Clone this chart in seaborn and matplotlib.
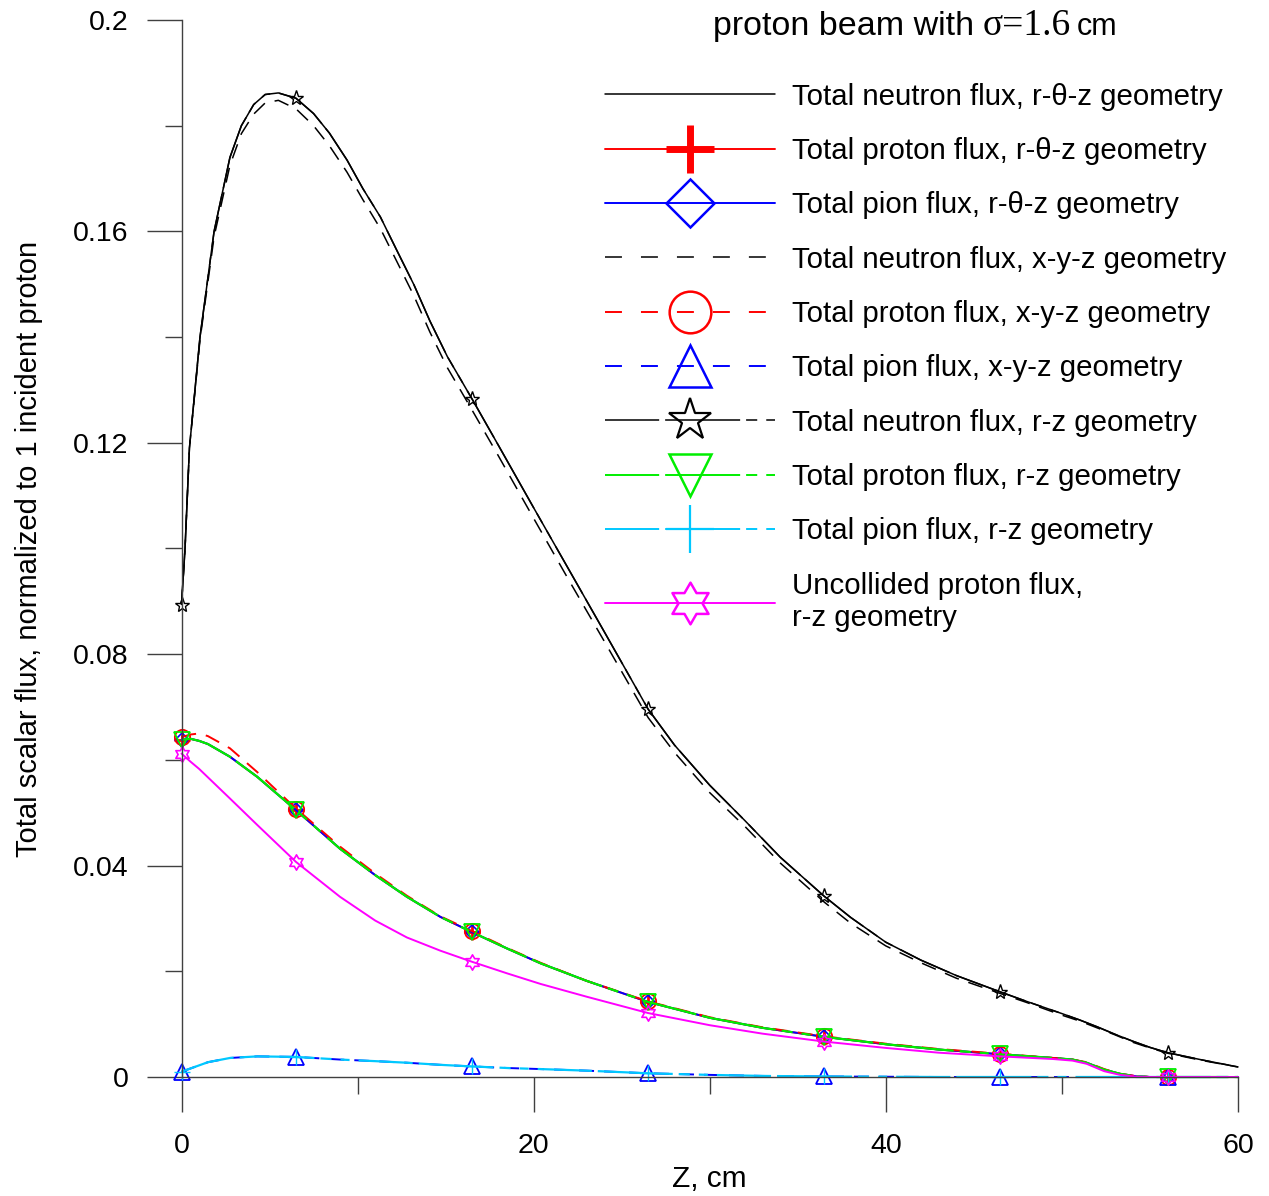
import numpy as np
import matplotlib
matplotlib.use("Agg")
import matplotlib.pyplot as plt
import seaborn as sns
from matplotlib.lines import Line2D
from matplotlib.path import Path
from matplotlib.ticker import MultipleLocator, FuncFormatter

# ---------------- data ----------------
z_n = [0, 0.2, 0.45, 1.05, 1.85, 2.75, 3.4, 4.1, 4.75, 5.5, 6.5, 7.5, 8.4, 9.4,
       10.3, 11.3, 12.2, 13.2, 14.1, 15.1, 16.5, 18, 20, 22, 24, 26.5, 28, 30,
       32, 34, 36.5, 38, 40, 42, 44, 46.5, 48, 50, 51, 52, 53, 54, 55, 56, 58, 60]
neutron_rtz = [0.0894, 0.100, 0.119, 0.140, 0.160, 0.174, 0.180, 0.184, 0.1859,
               0.1862, 0.1852, 0.1823, 0.1786, 0.1735, 0.1681, 0.1627, 0.1566,
               0.1499, 0.1431, 0.1363, 0.1283, 0.1195, 0.1077, 0.0960, 0.0843,
               0.0696, 0.0628, 0.0552, 0.0485, 0.0416, 0.0342, 0.0302, 0.0255,
               0.0221, 0.0192, 0.0161, 0.0143, 0.0120, 0.0108, 0.0095, 0.0081,
               0.0068, 0.0056, 0.0046, 0.0032, 0.0019]
neutron_xyz = [0.0894, 0.100, 0.119, 0.1395, 0.159, 0.1725, 0.1785, 0.1822,
               0.1843, 0.1848, 0.1832, 0.1800, 0.1762, 0.1712, 0.1660, 0.1605,
               0.1545, 0.1478, 0.1410, 0.1342, 0.1262, 0.1175, 0.1057, 0.0940,
               0.0825, 0.0680, 0.0614, 0.0538, 0.0474, 0.0405, 0.0331, 0.0291,
               0.0248, 0.0216, 0.0187, 0.0158, 0.0141, 0.0117, 0.0106, 0.0093,
               0.0080, 0.0066, 0.0055, 0.0045, 0.0031, 0.0019]
neutron_rz = [0.0894, 0.100, 0.119, 0.140, 0.160, 0.174, 0.180, 0.184, 0.1859,
              0.1862, 0.1852, 0.1823, 0.1786, 0.1735, 0.1681, 0.1627, 0.1566,
              0.1499, 0.1431, 0.1363, 0.1283, 0.1195, 0.1077, 0.0960, 0.0843,
              0.0696, 0.0628, 0.0552, 0.0485, 0.0416, 0.0342, 0.0302, 0.0255,
              0.0221, 0.0192, 0.0161, 0.0143, 0.0120, 0.0108, 0.0095, 0.0081,
              0.0068, 0.0056, 0.0046, 0.0032, 0.0019]

z_p = [0, 0.5, 1, 1.5, 2.75, 4.3, 6.5, 9, 11, 12.8, 14.7, 16.5, 18.5, 20.4, 23,
       26.5, 30, 33, 36.5, 40, 43, 46.5, 49.5, 50.6, 51.4, 52.4, 53.3, 54.1, 55,
       56, 58, 60]
proton_rtz = [0.0638, 0.0640, 0.0636, 0.0630, 0.0606, 0.0568, 0.0505, 0.0432,
              0.0382, 0.0341, 0.0303, 0.0274, 0.0243, 0.0215, 0.0182, 0.0142,
              0.0112, 0.0093, 0.0076, 0.0062, 0.0052, 0.0043, 0.0036, 0.0033,
              0.0027, 0.0014, 0.0006, 0.0002, 0.0, 0.0, 0.0, 0.0]
pion_rtz = [0.0638, 0.0640, 0.0636, 0.0630, 0.0606, 0.0568, 0.0505, 0.0432,
            0.0382, 0.0341, 0.0303, 0.0274, 0.0243, 0.0215, 0.0182, 0.0142,
            0.0112, 0.0093, 0.0076, 0.0062, 0.0052, 0.0043, 0.0036, 0.0033,
            0.0027, 0.0014, 0.0006, 0.0002, 0.0, 0.0, 0.0, 0.0]
proton_xyz = [0.0643, 0.0648, 0.0650, 0.0645, 0.0622, 0.0577, 0.0508, 0.0436,
              0.0385, 0.0343, 0.0304, 0.0276, 0.0244, 0.0216, 0.0182, 0.0143,
              0.0113, 0.0094, 0.0077, 0.0063, 0.0053, 0.0044, 0.0036, 0.0033,
              0.0028, 0.0015, 0.0006, 0.0002, 0.0, 0.0, 0.0, 0.0]
pion_xyz = [0.0010, 0.0016, 0.0022, 0.0028, 0.0036, 0.0039, 0.0038, 0.0033,
            0.0030, 0.0027, 0.0023, 0.0020, 0.0017, 0.0015, 0.0012, 0.0007,
            0.0004, 0.0002, 0.0001, 0.00005, 0.0, 0.0, 0.0, 0.0, 0.0, 0.0,
            0.0, 0.0, 0.0, 0.0, 0.0, 0.0]
proton_rz = [0.0638, 0.0640, 0.0636, 0.0630, 0.0606, 0.0568, 0.0505, 0.0432,
             0.0382, 0.0341, 0.0303, 0.0274, 0.0243, 0.0215, 0.0182, 0.0142,
             0.0112, 0.0093, 0.0076, 0.0062, 0.0052, 0.0043, 0.0036, 0.0033,
             0.0027, 0.0014, 0.0006, 0.0002, 0.0, 0.0, 0.0, 0.0]
pion_rz = [0.0010, 0.0016, 0.0022, 0.0028, 0.0036, 0.0039, 0.0038, 0.0033,
           0.0030, 0.0027, 0.0023, 0.0020, 0.0017, 0.0015, 0.0012, 0.0007,
           0.0004, 0.0002, 0.0001, 0.00005, 0.0, 0.0, 0.0, 0.0, 0.0, 0.0,
           0.0, 0.0, 0.0, 0.0, 0.0, 0.0]
proton_uncollided = [0.0612, 0.0597, 0.0583, 0.0567, 0.0527, 0.0477, 0.0407,
                     0.0341, 0.0296, 0.0264, 0.0239, 0.0218, 0.0196, 0.0176,
                     0.0152, 0.0121, 0.0098, 0.0082, 0.0067, 0.0055, 0.0046,
                     0.0039, 0.0034, 0.0031, 0.0025, 0.0011, 0.0004, 0.0001,
                     0.0, 0.0, 0.0, 0.0]

z_marks = [0, 6.5, 16.5, 26.5, 36.5, 46.5, 56]

labels = ["Total neutron flux, r-\u03b8-z geometry",
          "Total proton flux, r-\u03b8-z geometry",
          "Total pion flux, r-\u03b8-z geometry",
          "Total neutron flux, x-y-z geometry",
          "Total proton flux, x-y-z geometry",
          "Total pion flux, x-y-z geometry",
          "Total neutron flux, r-z geometry",
          "Total proton flux, r-z geometry",
          "Total pion flux, r-z geometry",
          "Uncollided proton flux,\nr-z geometry"]

# ---------------- style ----------------
sns.set_theme(style="white")
plt.rcParams["font.family"] = ["Liberation Sans", "DejaVu Sans"]
plt.rcParams["lines.scale_dashes"] = False
plt.rcParams["text.color"] = "black"
plt.rcParams["axes.labelcolor"] = "black"
plt.rcParams["xtick.color"] = "black"
plt.rcParams["ytick.color"] = "black"

RED, BLUE, GREEN, CYAN, MAG, BLK = "#ff0000", "#0000ff", "#00ee00", "#00c8ff", "#ff00ff", "#000000"
AXC = "#404040"

DASH = (0, (10.8, 7.2))
RZ = (0, (39, 4.3, 54, 4.3, 8, 6.5, 6.5, 6.5))
LEG_DASH = (0, (12.2, 13.7))

ang = np.deg2rad(90 + 30 * np.arange(12))
rad = np.where(np.arange(12) % 2 == 0, 1.0, 1 / np.sqrt(3))
hv = np.column_stack([rad * np.cos(ang), rad * np.sin(ang)])
hexagram = Path(np.vstack([hv, hv[:1]]), closed=True)

fig = plt.figure(figsize=(12.69, 11.96), dpi=100)
ax = fig.add_axes([0.14303, 0.09950, 0.83254, 0.88378])


def draw(x, y, color, ls, lw, marker=None, ms=9, mew=1.2):
    x = np.asarray(x, float)
    idx = list(np.where(np.isin(x, z_marks))[0])
    kw = dict(color=color, linestyle=ls, linewidth=lw, clip_on=False)
    if marker is not None:
        kw.update(marker=marker, markersize=ms, markeredgewidth=mew,
                  markerfacecolor="none", markeredgecolor=color, markevery=idx)
    sns.lineplot(x=x, y=np.asarray(y, float), ax=ax, errorbar=None,
                 sort=False, legend=False, **kw)


draw(z_n, neutron_rtz, BLK, "-", 1.1)
draw(z_p, proton_rtz, RED, "-", 1.4, "+", 11, 2.0)
draw(z_p, pion_rtz, BLUE, "-", 1.4, "D", 7.5, 1.2)
draw(z_n, neutron_xyz, BLK, DASH, 1.1)
draw(z_p, proton_xyz, RED, DASH, 1.4, "o", 11, 1.3)
draw(z_p, pion_xyz, BLUE, DASH, 1.4, "^", 11, 1.3)
draw(z_n, neutron_rz, BLK, RZ, 1.1, "*", 11, 1.0)
draw(z_p, proton_rz, GREEN, RZ, 1.6, "v", 11, 1.3)
draw(z_p, pion_rz, CYAN, RZ, 1.6, "+", 12, 1.0)
draw(z_p, proton_uncollided, MAG, "-", 1.4, hexagram, 11, 1.2)

ax.set_xlim(0, 60)
ax.set_ylim(0, 0.2)
ax.xaxis.set_major_locator(MultipleLocator(20))
ax.xaxis.set_minor_locator(MultipleLocator(10))
ax.yaxis.set_major_locator(MultipleLocator(0.04))
ax.yaxis.set_minor_locator(MultipleLocator(0.02))
ax.yaxis.set_major_formatter(FuncFormatter(lambda v, p: "%g" % round(v, 4)))
ax.xaxis.set_major_formatter(FuncFormatter(lambda v, p: "%g" % v))
for s in ["top", "right"]:
    ax.spines[s].set_visible(False)
for s in ["left", "bottom"]:
    ax.spines[s].set_color(AXC)
    ax.spines[s].set_linewidth(1.0)
ax.tick_params(which="both", bottom=True, left=True, top=False, right=False)
ax.tick_params(which="major", direction="out", length=25, width=1.0, color=AXC,
               labelsize=20.5, labelcolor="black")
ax.tick_params(which="minor", direction="out", length=12.5, width=1.0, color=AXC)
ax.tick_params(axis="x", which="major", pad=15)
ax.tick_params(axis="y", which="major", pad=13)
ax.grid(False)

ax.set_xlabel("Z, cm", fontsize=21.5, labelpad=5)
ax.set_ylabel("Total scalar flux, normalized to 1 incident proton", fontsize=21,
              labelpad=22)

# legend
handles = [
    Line2D([], [], color=BLK, lw=1.1),
    Line2D([], [], color=RED, lw=1.4, marker="+", ms=34, mew=5),
    Line2D([], [], color=BLUE, lw=1.4, marker="D", ms=24, mew=1.8, mfc="none"),
    Line2D([], [], color=BLK, lw=1.1, linestyle=LEG_DASH),
    Line2D([], [], color=RED, lw=1.4, linestyle=LEG_DASH, marker="o", ms=30, mew=1.8, mfc="none"),
    Line2D([], [], color=BLUE, lw=1.4, linestyle=LEG_DASH, marker="^", ms=30, mew=1.8, mfc="none"),
    Line2D([], [], color=BLK, lw=1.1, linestyle=RZ, marker="*", ms=32, mew=1.6, mfc="none"),
    Line2D([], [], color=GREEN, lw=1.4, linestyle=RZ, marker="v", ms=30, mew=1.8, mfc="none"),
    Line2D([], [], color=CYAN, lw=1.4, linestyle=RZ, marker="+", ms=34, mew=1.6),
    Line2D([], [], color=MAG, lw=1.4, marker=hexagram, ms=30, mew=1.8, mfc="none"),
]
leg = fig.legend(handles, labels, loc="upper left", bbox_to_anchor=(0.4768, 0.931),
                 frameon=False, fontsize=21.2, handlelength=5.78, handletextpad=0.58,
                 labelspacing=0.895, numpoints=1, borderpad=0, borderaxespad=0)
for t in leg.get_texts():
    t.set_color("black")

# title in pieces (sans / serif / sans)
fig.canvas.draw()
rend = fig.canvas.get_renderer()
W = fig.get_figwidth() * fig.dpi
ty = 1 - 35 / 1196
fig.text(713 / W, ty, "proton beam with", fontsize=24.5, va="baseline")
t2 = fig.text(983 / W, ty, "\u03c3=1.6", fontsize=27, va="baseline",
              family=["Liberation Serif", "DejaVu Serif"])
bb2 = t2.get_window_extent(rend)
fig.text((bb2.x1 + 5) / W, ty, "cm", fontsize=22, va="baseline")

fig.savefig("out.png", dpi=100)
